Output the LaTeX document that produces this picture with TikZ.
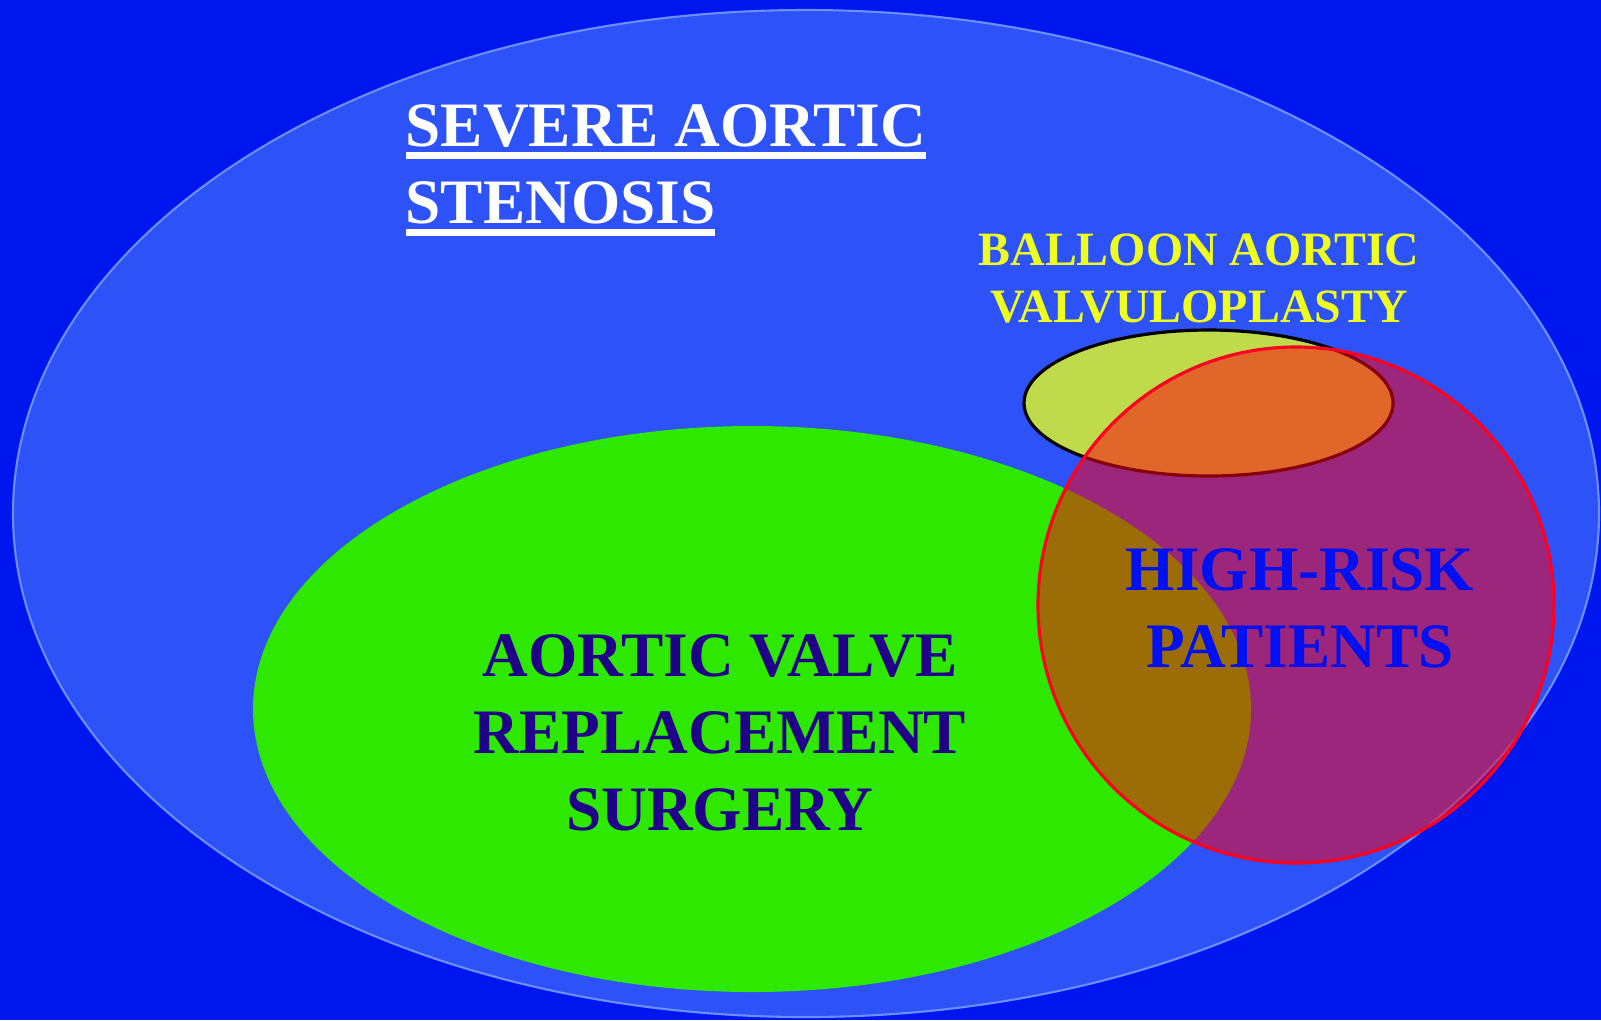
\documentclass[tikz,border=0pt]{standalone}
\usepackage{fontspec}
\setmainfont{Liberation Serif}
\usepackage{tikz}
\usepackage{xcolor}
\definecolor{sky}{HTML}{0016EF}
\definecolor{pool}{HTML}{2D52F7}
\definecolor{rim}{HTML}{6A90FF}
\definecolor{surgery}{HTML}{2EE800}
\definecolor{balloon}{HTML}{BFDA4A}
\definecolor{risk}{HTML}{FF000F}
\definecolor{riskline}{HTML}{FF0020}
\definecolor{bavink}{HTML}{EEFF20}
\definecolor{avrink}{HTML}{200088}
\definecolor{hrpink}{HTML}{0010F0}
\newcommand{\inkunder}[1]{\setbox0\hbox{#1}\rlap{\usebox0}\rule[-3.7pt]{\wd0}{2pt}}

\begin{document}
\begin{tikzpicture}[x=0.01cm,y=-0.01cm,
  every node/.style={inner sep=0pt,align=center},
  bigtext/.style={font=\fontsize{18}{21.8}\selectfont\bfseries},
  smalltext/.style={font=\fontsize{13.6}{16.2}\selectfont\bfseries}]
\useasboundingbox (0,0) rectangle (1601,1020);
\fill[sky] (0,0) rectangle (1601,1020);
\filldraw[fill=pool,draw=rim,line width=0.6pt] (806,513.5) ellipse [x radius=793,y radius=503.5];
\fill[surgery] (752,709) ellipse [x radius=499,y radius=283];
\filldraw[fill=balloon,draw=black,line width=0.9pt] (1208.5,403) ellipse [x radius=184.5,y radius=73];
\filldraw[fill=risk,fill opacity=0.53,draw=riskline,line width=0.9pt] (1296,605) circle [radius=258];
\node[bigtext,text=white,anchor=base west,align=left] (sev) at (405,223) {\inkunder{SEVERE AORTIC}\\\inkunder{STENOSIS}};
\node[smalltext,text=bavink,anchor=base] (bav) at (1199,322) {BALLOON AORTIC\\VALVULOPLASTY};
\node[bigtext,text=avrink,anchor=base] (avr) at (720,830) {AORTIC VALVE\\REPLACEMENT\\SURGERY};
\node[bigtext,text=hrpink,anchor=base] (hrp) at (1300,667) {HIGH-RISK\\PATIENTS};
\end{tikzpicture}
\end{document}
